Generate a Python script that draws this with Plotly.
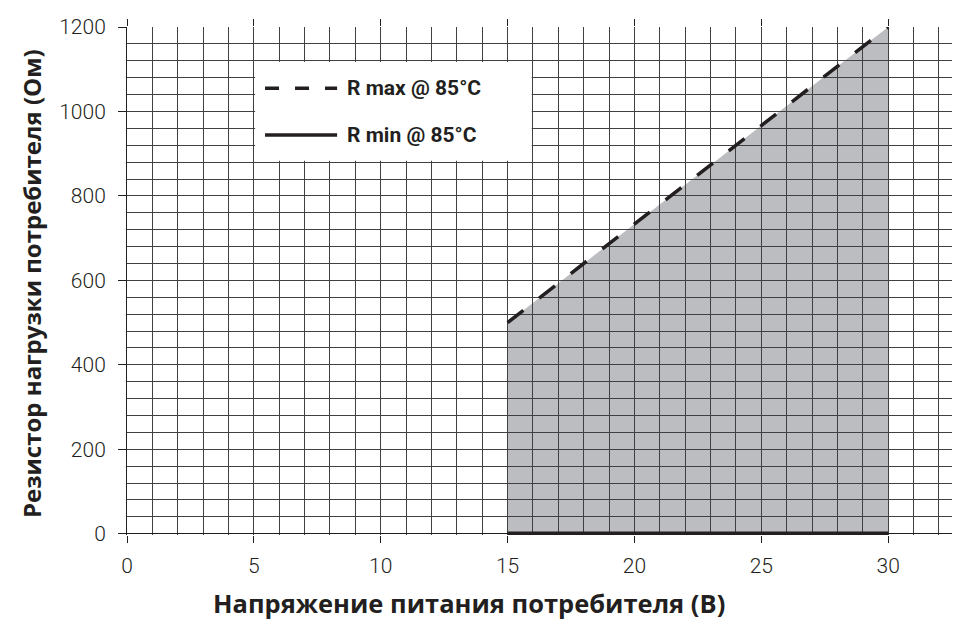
import plotly.graph_objects as go

# ---- data ----
voltage = [15, 30]
r_max = [500, 1200]
r_min = [0, 0]
x_ticks = [0, 5, 10, 15, 20, 25, 30]
y_ticks = [0, 200, 400, 600, 800, 1000, 1200]
legend_labels = ["R max @ 85°C", "R min @ 85°C"]
x_title = "Напряжение питания потребителя (В)"
y_title = "Резистор нагрузки потребителя (Ом)"

INK = "#231f20"
GRID = "#404040"
FILL = "#bcbdc0"
TICKF = "Roboto, Liberation Sans, sans-serif"
BOLD = "Open Sans, Liberation Sans, sans-serif"

# page has an 8px body margin; figure coordinates are page coordinates minus OFF
OFF = 8
W, H = 960 - OFF, 628 - OFF
ML, MT = 127 - OFF, 27 - OFF
MR = 0
MB = H - (535 - OFF)
PW, PH = W - ML - MR, H - MT - MB


def page_to_paper(px, py):
    return (px - OFF - ML) / PW, (H - MB - (py - OFF)) / PH


fig = go.Figure()

# shaded operating region, drawn beneath the grid
pts = [(voltage[0], r_min[0]), (voltage[0], r_max[0]),
       (voltage[1], r_max[1]), (voltage[1], r_min[1])]
path = "M " + " L ".join(f"{x},{y}" for x, y in pts) + " Z"
fig.add_shape(type="path", path=path, fillcolor=FILL, line_width=0,
              layer="below", xref="x", yref="y")

fig.add_trace(go.Scatter(x=voltage, y=r_max, mode="lines", name=legend_labels[0],
                         line=dict(color=INK, width=3.5, dash="20px,20px"),
                         showlegend=False, hoverinfo="skip"))
fig.add_trace(go.Scatter(x=voltage, y=r_min, mode="lines", name=legend_labels[1],
                         line=dict(color=INK, width=4.5), showlegend=False,
                         hoverinfo="skip"))

# custom legend box
fig.add_shape(type="rect", xref="x", yref="y", x0=5.05, x1=15.95, y0=883, y1=1117,
              fillcolor="white", line_width=0, layer="above")
fig.add_shape(type="line", xref="x", yref="y", x0=5.44, x1=8.28, y0=1055, y1=1055,
              line=dict(color=INK, width=3.5, dash="14px,16px"), layer="above")
fig.add_shape(type="line", xref="x", yref="y", x0=5.44, x1=8.28, y0=944, y1=944,
              line=dict(color=INK, width=3.5), layer="above")
for lab, yv in zip(legend_labels, [1055, 944]):
    fig.add_annotation(text=lab, x=8.6, y=yv, xref="x", yref="y", xanchor="left",
                       yanchor="middle", showarrow=False,
                       font=dict(family=TICKF, size=21, color=INK, weight="bold"))

# axis titles
tx, ty = page_to_paper(469, 603)
fig.add_annotation(text=f"<b>{x_title}</b>", x=tx, y=ty, xref="paper", yref="paper",
                   xanchor="center", yanchor="middle",
                   showarrow=False, font=dict(family=BOLD, size=25.5, color=INK))
tx, ty = page_to_paper(31, 284)
fig.add_annotation(text=f"<b>{y_title}</b>", x=tx, y=ty, xref="paper", yref="paper",
                   xanchor="center", yanchor="middle",
                   textangle=-90, showarrow=False, font=dict(family=BOLD, size=24, color=INK))

fig.update_layout(
    width=W, height=H,
    margin=dict(l=ML, r=MR, t=MT, b=MB, pad=0, autoexpand=False),
    plot_bgcolor="white", paper_bgcolor="white",
    showlegend=False,
    xaxis=dict(range=[0, 32.83], tickvals=x_ticks, ticktext=[str(v) for v in x_ticks],
               ticks="outside", ticklen=7, tickwidth=1, tickcolor=INK,
               showgrid=True, gridcolor=GRID, gridwidth=1,
               minor=dict(dtick=1, showgrid=True, gridcolor=GRID, gridwidth=1),
               showline=False, mirror="ticks", zeroline=False, automargin=False,
               tickfont=dict(family=TICKF, size=21, color=INK, weight=300),
               ticklabelstandoff=5),
    yaxis=dict(range=[-3, 1200], tickvals=y_ticks, ticktext=[str(v) for v in y_ticks],
               ticks="outside", ticklen=8, tickwidth=1, tickcolor=INK,
               showgrid=True, gridcolor=GRID, gridwidth=1,
               minor=dict(dtick=40, showgrid=True, gridcolor=GRID, gridwidth=1),
               showline=True, linecolor=INK, linewidth=1,
               zeroline=True, zerolinecolor=INK, zerolinewidth=1, automargin=False,
               tickfont=dict(family=TICKF, size=21, color=INK, weight=300),
               ticklabelstandoff=8),
)

fig.write_html("out.html")
